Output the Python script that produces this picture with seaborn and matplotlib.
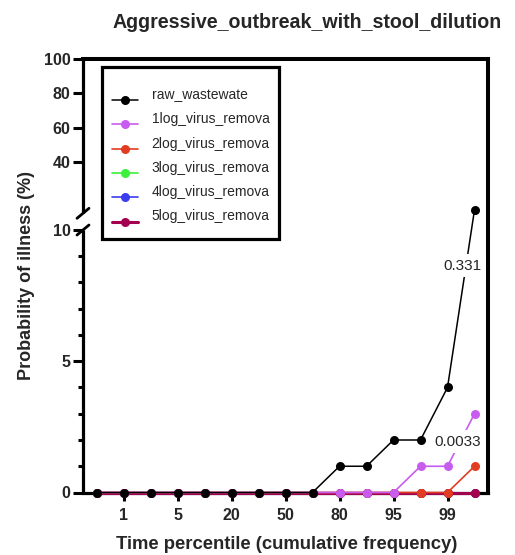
import numpy as np
import pandas as pd
import matplotlib
matplotlib.use("Agg")
import matplotlib.pyplot as plt
from matplotlib.ticker import FixedLocator, NullFormatter
import seaborn as sns

# ---------------- data ----------------
x_tick_labels = ["", "1", "", "5", "", "20", "", "50", "", "80", "", "95", "", "99", ""]
series_names = ["raw_wastewate", "1log_virus_remova", "2log_virus_remova",
                "3log_virus_remova", "4log_virus_remova", "5log_virus_remova"]
raw_wastewater = [0, 0, 0, 0, 0, 0, 0, 0, 0, 1, 1, 2, 2, 4, 12]
log1_removal   = [0, 0, 0, 0, 0, 0, 0, 0, 0, 0, 0, 0, 1, 1, 3]
log2_removal   = [0, 0, 0, 0, 0, 0, 0, 0, 0, 0, 0, 0, 0, 0, 1]
log3_removal   = [0] * 15
log4_removal   = [0] * 15
log5_removal   = [0] * 15
annotations = [("0.331", 13.56, 8.64), ("0.0033", 13.37, 1.93)]

series_values = [raw_wastewater, log1_removal, log2_removal,
                 log3_removal, log4_removal, log5_removal]
colors = ["#000000", "#c95cf0", "#e23c22", "#3cf03c", "#3c3cf0", "#a3004f"]
widths = [1.1, 1.2, 1.2, 1.2, 1.2, 2.2]
zorders = [9, 8, 7, 4, 5, 6]

# ---------------- theme ----------------
sns.set_theme(style="white")
plt.rcParams["font.family"] = ["Liberation Sans", "DejaVu Sans"]

fig = plt.figure(figsize=(5.15, 5.55), dpi=100)
ax = fig.add_axes([83 / 515, 1 - 492.5 / 555, 405 / 515, 433.5 / 555])

# broken axis via piecewise scale
G = 0.637   # gap (lower units)
R = 0.0653  # compression of upper segment


def fwd(y):
    y = np.asarray(y, dtype=float)
    return np.where(y <= 10, y, 10 + G + (y - 10) * R)


def inv(d):
    d = np.asarray(d, dtype=float)
    return np.where(d <= 10, d, np.where(d < 10 + G, 10.0, 10 + (d - 10 - G) / R))


ax.set_yscale("function", functions=(fwd, inv))

xpos = np.arange(len(x_tick_labels))
frames = []
for name, vals in zip(series_names, series_values):
    frames.append(pd.DataFrame({"x": xpos, "y": vals, "series": name}))
df = pd.concat(frames)

handles = {}
for i in reversed(range(len(series_names))):
    name = series_names[i]
    sub = df[df["series"] == name]
    sns.lineplot(data=sub, x="x", y="y", ax=ax, color=colors[i], linewidth=widths[i],
                 marker="o", markersize=6.5, markeredgewidth=0, markeredgecolor=colors[i],
                 zorder=zorders[i], clip_on=False)
    handles[name] = ax.get_lines()[-1]

ax.set_xlim(-0.5, 14.5)
ax.set_ylim(0, 100)

# ticks
ax.xaxis.set_major_locator(FixedLocator([i for i, t in enumerate(x_tick_labels) if t]))
ax.set_xticklabels([t for t in x_tick_labels if t])
ax.yaxis.set_major_locator(FixedLocator([0, 5, 10, 40, 60, 80, 100]))
ax.set_yticklabels(["0", "5", "10", "40", "60", "80", "100"])
ax.yaxis.set_minor_locator(FixedLocator([1, 2, 3, 4, 6, 7, 8, 9]))
ax.yaxis.set_minor_formatter(NullFormatter())
ax.tick_params(axis="x", which="major", direction="out", length=6, width=2.2,
               labelsize=11.5, pad=5, bottom=True, color="black")
ax.tick_params(axis="y", which="major", direction="out", length=7, width=2.2,
               labelsize=11.5, pad=2, left=True, color="black")
ax.tick_params(axis="y", which="minor", direction="out", length=3.8, width=2.2,
               left=True, color="black")
for lab in ax.get_xticklabels() + ax.get_yticklabels():
    lab.set_fontweight("bold")

# spines
for s in ["top", "right", "bottom"]:
    ax.spines[s].set_visible(True)
    ax.spines[s].set_color("black")
ax.spines["top"].set_linewidth(2.9)
ax.spines["right"].set_linewidth(2.9)
ax.spines["bottom"].set_linewidth(2.3)
ax.spines["left"].set_visible(False)

y_lo = (492.5 - 230) / 433.5
y_hi = (492.5 - 213.3) / 433.5
ax.plot([0, 0], [0, y_lo], transform=ax.transAxes, color="black", lw=2.3,
        clip_on=False, solid_capstyle="butt", zorder=10)
ax.plot([0, 0], [y_hi, 1.0035], transform=ax.transAxes, color="black", lw=2.3,
        clip_on=False, solid_capstyle="butt", zorder=10)
dx, dy = 6 / 405, 5 / 433.5
for yb in (y_lo, y_hi):
    ax.plot([-dx, dx], [yb - dy, yb + dy], transform=ax.transAxes, color="black",
            lw=2.0, clip_on=False, zorder=10)

# annotations
for txt, xa, ya in annotations:
    ax.text(xa, ya, txt, fontsize=11, ha="center", va="center", zorder=20,
            bbox=dict(boxstyle="square,pad=0.3", fc="white", ec="none"))

# labels
ax.set_xlabel("Time percentile (cumulative frequency)", fontsize=13.3, fontweight="bold")
ax.xaxis.set_label_coords(0.504, -0.1)
ax.set_ylabel("Probability of illness (%)", fontsize=13, fontweight="bold")
ax.yaxis.set_label_coords(-0.118, 0.5)
fig.text(307 / 515, 1 - 22 / 555, "Aggressive_outbreak_with_stool_dilution",
         fontsize=14.1, fontweight="bold", ha="center", va="center")

# legend
leg = ax.legend([handles[n] for n in series_names], series_names,
                loc="upper left", bbox_to_anchor=(19 / 405, 1 - 8 / 433.5),
                borderaxespad=0, frameon=True, fancybox=False, fontsize=10,
                labelspacing=0.74, handlelength=1.87, handletextpad=1.0,
                borderpad=0.7, edgecolor="black", framealpha=1,
                title=" ", title_fontsize=5.5)
leg.get_frame().set_linewidth(2.3)
leg.set_zorder(30)
for t in leg.get_texts():
    t.set_y(6)

fig.savefig("out.png", dpi=100, facecolor="white")
